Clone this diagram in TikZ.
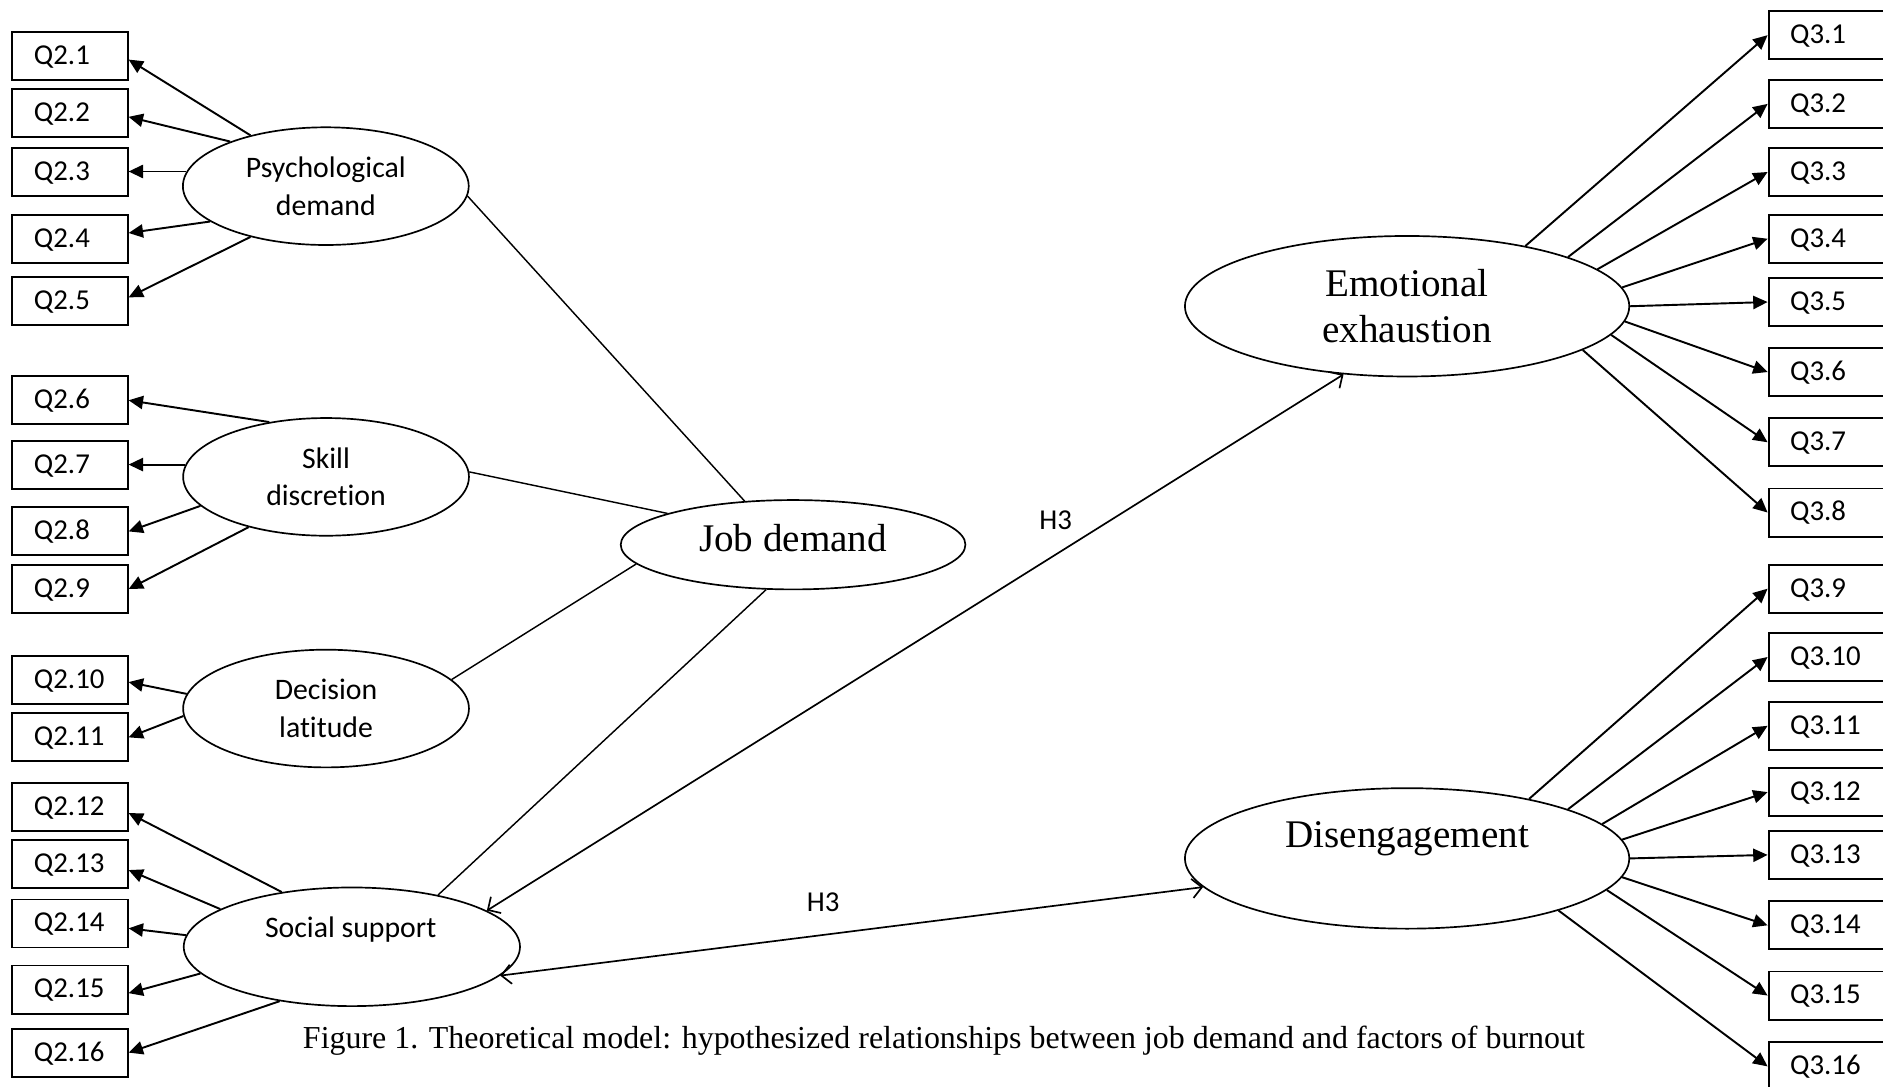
\documentclass[tikz,border=0pt]{standalone}
\usepackage{fontspec}
\setmainfont{Liberation Serif}
\newfontfamily\calfont[Ligatures=NoCommon]{Carlito}
\usetikzlibrary{shapes.geometric,arrows.meta}
\begin{document}
\begin{tikzpicture}[x=0.5pt,y=-0.5pt,
 qbox/.style={draw, line width=0.8pt, minimum height=20pt, inner ysep=0pt, inner xsep=9pt, text width=30pt, text height=8pt, text depth=1pt, align=left, font=\calfont\fontsize{12}{14}\selectfont},
 rbox/.style={qbox, text width=32pt},
 lat/.style={draw, ellipse, line width=0.7pt, inner sep=0pt, align=center, font=\calfont\fontsize{12.4}{15.7}\selectfont, minimum width=119pt, minimum height=49pt},
 big/.style={draw, ellipse, line width=0.7pt, inner sep=0pt, minimum width=185pt, minimum height=58.5pt},
 ser/.style={font=\fontsize{16.3}{19}\selectfont, align=center, inner sep=0pt},
 ld/.style={-{Triangle[length=6pt,width=5.5pt]}, line width=0.8pt},
 jl/.style={line width=0.6pt},
 hyp/.style={{Straight Barb[length=4pt,width=8pt]}-{Straight Barb[length=4pt,width=8pt]}, line width=0.7pt},
 hlab/.style={font=\calfont\fontsize{12}{14}\selectfont, inner sep=0pt, anchor=base}
]
\path[use as bounding box, fill=white] (0,0) rectangle (1568,905);

% left indicator boxes
\node[qbox] (q21) at (58.3,46.6) {Q2.1};
\node[qbox] (q22) at (58.3,94.3) {Q2.2};
\node[qbox] (q23) at (58.3,143) {Q2.3};
\node[qbox] (q24) at (58.3,199) {Q2.4};
\node[qbox] (q25) at (58.3,250.6) {Q2.5};
\node[qbox] (q26) at (58.3,333.3) {Q2.6};
\node[qbox] (q27) at (58.3,387) {Q2.7};
\node[qbox] (q28) at (58.3,442.5) {Q2.8};
\node[qbox] (q29) at (58.3,490.5) {Q2.9};
\node[qbox] (q210) at (58.3,566) {Q2.10};
\node[qbox] (q211) at (58.3,614) {Q2.11};
\node[qbox] (q212) at (58.3,672) {Q2.12};
\node[qbox] (q213) at (58.3,719.5) {Q2.13};
\node[qbox] (q214) at (58.3,769) {Q2.14};
\node[qbox] (q215) at (58.3,824) {Q2.15};
\node[qbox] (q216) at (58.3,876.5) {Q2.16};

% right indicator boxes
\node[rbox] (q31) at (1522.7,29.3) {Q3.1};
\node[rbox] (q32) at (1522.7,86.5) {Q3.2};
\node[rbox] (q33) at (1522.7,143.2) {Q3.3};
\node[rbox] (q34) at (1522.7,198.8) {Q3.4};
\node[rbox] (q35) at (1522.7,251.5) {Q3.5};
\node[rbox] (q36) at (1522.7,309.8) {Q3.6};
\node[rbox] (q37) at (1522.7,368.3) {Q3.7};
\node[rbox] (q38) at (1522.7,426.8) {Q3.8};
\node[rbox] (q39) at (1522.7,490.2) {Q3.9};
\node[rbox] (q310) at (1522.7,547.1) {Q3.10};
\node[rbox] (q311) at (1522.7,604.4) {Q3.11};
\node[rbox] (q312) at (1522.7,659.6) {Q3.12};
\node[rbox] (q313) at (1522.7,711.9) {Q3.13};
\node[rbox] (q314) at (1522.7,770.5) {Q3.14};
\node[rbox] (q315) at (1522.7,829) {Q3.15};
\node[rbox] (q316) at (1522.7,888) {Q3.16};

% latent variables
\node[lat] (psy) at (271.3,155) {Psychological\\demand};
\node[lat] (ski) at (271.5,397.1) {Skill\\discretion};
\node[lat] (dec) at (271.5,590) {Decision\\latitude};
\node[lat, minimum width=140pt, minimum height=49.4pt] (soc) at (293,788.4) {};
\node[hlab, font=\calfont\fontsize{12.4}{15}\selectfont] (soct) at (292,780.5) {Social support};
\node[draw, ellipse, line width=0.7pt, inner sep=0pt, minimum width=143.5pt, minimum height=37.2pt] (job) at (660.4,453.6) {};
\node[ser, anchor=base] (jobt) at (660.4,459.5) {Job demand};
\node[big] (emo) at (1171.7,255) {};
\node[ser] (emot) at (1171.7,255) {Emotional\\exhaustion};
\node[big] (dis) at (1171.7,714.8) {};
\node[ser, anchor=base] (dist) at (1171.7,706) {Disengagement};

% loadings, left
\draw[ld] (psy.146.2) -- ([yshift=-1.5pt]q21.east);
\draw[ld] (psy.155.8) -- ([yshift=-1.5pt]q22.east);
\draw[ld] (psy.174.6) -- (psy.174.6 -| q23.east);
\draw[ld] (psy.197.3) -- ([yshift=2.5pt]q24.east);
\draw[ld] (psy.214.9) -- ([yshift=1.5pt]q25.east);
\draw[ld] (ski.136.7) -- (q26.east);
\draw[ld] (ski.175.6) -- (ski.175.6 -| q27.east);
\draw[ld] (ski.193.8) -- (q28.east);
\draw[ld] (ski.213.7) -- (q29.east);
\draw[ld] (dec.174.7) -- ([yshift=-1pt]q210.east);
\draw[ld] (dec.183.9) -- (q211.east);
\draw[ld] (soc.142.7) -- ([yshift=-2.5pt]q212.east);
\draw[ld] (soc.164.8) -- ([yshift=-2.5pt]q213.east);
\draw[ld] (soc.176.6) -- ([yshift=-2pt]q214.east);
\draw[ld] (soc.190.8) -- ([yshift=-1.5pt]q215.east);
\draw[ld] (soc.217.6) -- (q216.east);

% links to job demand
\draw[jl] (psy.-4) -- (job.138);
\draw[jl] (ski.2) -- (job.166.6);
\draw[jl] (dec.13.9) -- (job.187.3);
\draw[jl] (soc.31.7) -- (job.239.2);

% hypotheses
\draw[hyp] (soc.15) -- (emo.227);
\draw[hyp] (soc.-11.4) -- (dis.188.5);
\node[hlab] (h3a) at (879,441.3) {H3};
\node[hlab] (h3b) at (685.4,759.2) {H3};

% loadings, right
\draw[ld] (emo.27.4) -- (q31.west);
\draw[ld] (emo.17.3) -- (q32.west);
\draw[ld] (emo.11.2) -- (q33.west);
\draw[ld] (emo.5.3) -- (q34.west);
\draw[ld] (emo.-0.4) -- (q35.west);
\draw[ld] (emo.-4.9) -- (q36.west);
\draw[ld] (emo.-8.2) -- (q37.west);
\draw[ld] (emo.-14.9) -- (q38.west);
\draw[ld] (dis.26.9) -- (q39.west);
\draw[ld] (dis.17) -- (q310.west);
\draw[ld] (dis.10.8) -- (q311.west);
\draw[ld] (dis.5) -- (q312.west);
\draw[ld] (dis.-0.5) -- (q313.west);
\draw[ld] (dis.-5.3) -- (q314.west);
\draw[ld] (dis.-9) -- (q315.west);
\draw[ld] (dis.-19) -- (q316.west);

% caption
\node[font=\fontsize{13.3}{16}\selectfont, anchor=base, inner sep=0pt] (cap) at (786,872.7) {Figure 1. Theoretical model: hypothesized relationships between job demand and factors of burnout};
\end{tikzpicture}
\end{document}
